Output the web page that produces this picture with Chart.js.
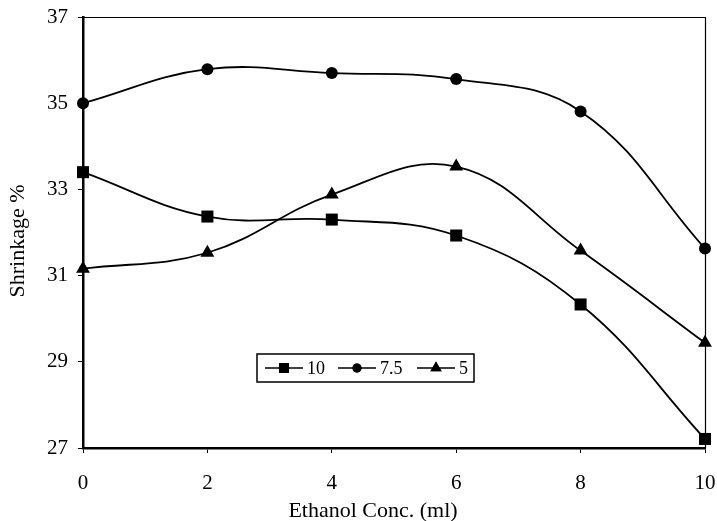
<!DOCTYPE html>
<html>
<head>
<meta charset="utf-8">
<script src="https://cdn.jsdelivr.net/npm/chart.js@4/dist/chart.umd.min.js"></script>
<style>
html,body{margin:0;padding:0;background:#fff;}
#wrap{width:717px;height:521px;}
</style>
</head>
<body>
<div id="wrap"><canvas id="c" width="717" height="521"></canvas></div>
<script>
const categories = ['0','2','4','6','8','10'];
const series10  = [33.40, 32.37, 32.30, 31.93, 30.33, 27.21];
const series75  = [35.00, 35.79, 35.70, 35.56, 34.81, 31.63];
const series5   = [31.16, 31.53, 32.88, 33.53, 31.58, 29.44];
const seriesNames = ['10', '7.5', '5'];
const yTicks = [27, 29, 31, 33, 35, 37];
const xTitle = 'Ethanol Conc. (ml)';
const yTitle = 'Shrinkage %';

const FONT = '"Liberation Serif", "Times New Roman", serif';

const boxPlugin = {
  id: 'box',
  afterDraw(chart) {
    const {ctx, chartArea: a} = chart;
    ctx.save();
    ctx.strokeStyle = '#000';
    ctx.lineWidth = 1.2;
    ctx.beginPath();
    ctx.moveTo(a.left, a.top + 0.5);
    ctx.lineTo(a.right + 0.5, a.top + 0.5);
    ctx.lineTo(a.right + 0.5, a.bottom);
    ctx.stroke();
    // axis titles
    ctx.fillStyle = '#000';
    ctx.font = '22px ' + FONT;
    ctx.textAlign = 'center';
    ctx.textBaseline = 'middle';
    ctx.fillText(xTitle, 373, 511);
    ctx.translate(18, 241);
    ctx.rotate(-Math.PI / 2);
    ctx.fillText(yTitle, 0, 0);
    ctx.restore();
  }
};

const legendPlugin = {
  id: 'innerLegend',
  afterDraw(chart) {
    const ctx = chart.ctx;
    const bx = 257, by = 354, bw = 217, bh = 28;
    ctx.save();
    ctx.fillStyle = '#fff';
    ctx.fillRect(bx, by, bw, bh);
    ctx.strokeStyle = '#000';
    ctx.lineWidth = 1.5;
    ctx.strokeRect(bx, by, bw, bh);
    const cy = by + bh / 2;
    const starts = [265, 338, 417];
    ctx.font = '18px ' + FONT;
    ctx.textBaseline = 'middle';
    chart.data.datasets.forEach((ds, i) => {
      const x0 = starts[i];
      ctx.strokeStyle = '#000';
      ctx.lineWidth = 1.5;
      ctx.beginPath();
      ctx.moveTo(x0, cy);
      ctx.lineTo(x0 + 38, cy);
      ctx.stroke();
      ctx.fillStyle = '#000';
      Chart.helpers.drawPoint(ctx, {pointStyle: ds.pointStyle, radius: ds.pointRadius - 1.5, rotation: 0, borderWidth: 0}, x0 + 19, cy);
      ctx.fill();
      ctx.fillStyle = '#000';
      ctx.fillText(ds.label, x0 + 42, cy + 1);
    });
    ctx.restore();
  }
};

function mk(label, data, style, r) {
  return {
    label, data,
    borderColor: '#000', backgroundColor: '#000',
    borderWidth: 1.8,
    pointStyle: style, pointRadius: r, pointHoverRadius: r,
    pointBorderWidth: 0,
    tension: 0.4,
    cubicInterpolationMode: 'default',
    clip: false
  };
}

new Chart(document.getElementById('c'), {
  type: 'line',
  data: {
    labels: categories,
    datasets: [
      mk(seriesNames[0], series10, 'rect', 8.5),
      mk(seriesNames[1], series75, 'circle', 6),
      mk(seriesNames[2], series5, 'triangle', 8)
    ]
  },
  options: {
    responsive: false,
    animation: false,
    events: [],
    layout: {padding: {top: 17, right: 12, left: 0, bottom: 0}},
    plugins: {legend: {display: false}, tooltip: {enabled: false}},
    scales: {
      x: {
        type: 'category',
        offset: false,
        border: {display: true, color: '#000', width: 2.5},
        grid: {drawOnChartArea: false, drawTicks: true, tickLength: 5, color: '#000', tickWidth: 1},
        ticks: {color: '#000', font: {family: FONT, size: 21}, padding: 18, maxRotation: 0},
        title: {display: false},
        afterFit(s) { s.height = 73; s.paddingLeft = 0; s.paddingRight = 0; }
      },
      y: {
        min: 27, max: 37,
        afterBuildTicks(s) { s.ticks = yTicks.map(v => ({value: v})); },
        border: {display: true, color: '#000', width: 2.5},
        grid: {drawOnChartArea: false, drawTicks: true, tickLength: 5, color: '#000', tickWidth: 1},
        ticks: {color: '#000', font: {family: FONT, size: 21}, padding: 10},
        title: {display: false},
        afterFit(s) { s.width = 83; s.paddingTop = 0; s.paddingBottom = 0; }
      }
    }
  },
  plugins: [boxPlugin, legendPlugin]
});
</script>
</body>
</html>
